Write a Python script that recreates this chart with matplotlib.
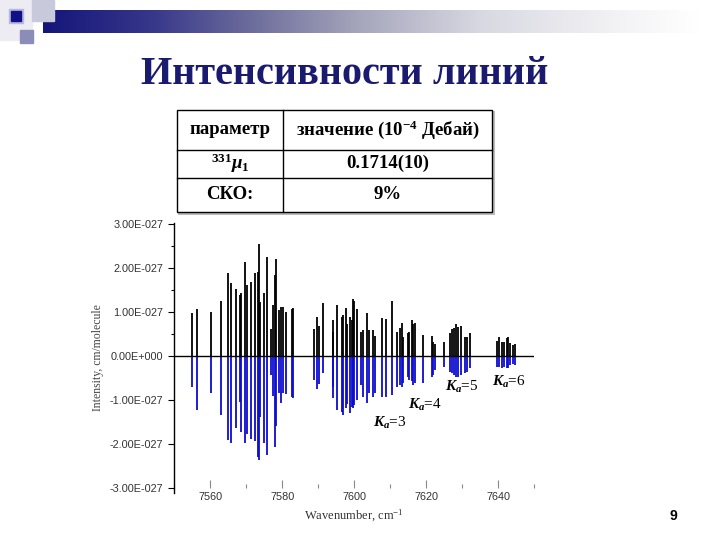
import numpy as np
import matplotlib
matplotlib.use("Agg")
import matplotlib.pyplot as plt
from matplotlib.ticker import FixedLocator, MultipleLocator, FuncFormatter
from matplotlib.colors import to_rgb

plt.rcParams['mathtext.fontset'] = 'custom'
plt.rcParams['mathtext.rm'] = 'Liberation Serif'
plt.rcParams['mathtext.it'] = 'Liberation Serif:italic:bold'
plt.rcParams['mathtext.bf'] = 'Liberation Serif:bold'

# ---------------- data ----------------
title = "Интенсивности линий"
table_header = ["параметр", "значение (10$^{\\mathbf{-4}}$ Дебай)"]
table_row1 = ["$^{\\mathbf{331}}μ_{\\mathbf{1}}$", "0.1714(10)"]
table_row2 = ["СКО:", "9%"]

wavenumber = [7555.0, 7556.4, 7560.3, 7563.1, 7564.8, 7565.8, 7567.2, 7568.3, 7568.6, 7569.7,
              7570.1, 7571.2, 7572.4, 7573.3, 7573.6, 7573.8, 7575.0, 7575.8, 7576.9, 7577.5,
              7577.9, 7578.2, 7579.2, 7579.7, 7580.3, 7581.1, 7582.7, 7583.1, 7588.8, 7589.6,
              7590.3, 7591.4, 7594.0, 7594.2, 7595.3, 7596.5, 7596.9, 7597.6, 7598.1, 7598.8,
              7599.3, 7599.6, 7600.0, 7600.8, 7601.8, 7602.5, 7603.6, 7604.2, 7605.3, 7605.8,
              7607.8, 7608.8, 7610.6, 7611.8, 7612.7, 7613.2, 7613.6, 7614.8, 7615.3, 7615.9,
              7616.4, 7616.9, 7619.0, 7621.5, 7621.9, 7622.5, 7625.0, 7626.6, 7627.1, 7627.7,
              7628.3, 7628.9, 7629.7, 7630.8, 7631.4, 7632.1, 7639.6, 7640.3, 7640.9, 7641.6,
              7642.3, 7642.7, 7643.3, 7644.0, 7644.6]
# observed intensities (units of 1e-27 cm/molecule), drawn upward
observed = [0.97, 1.06, 1.01, 1.25, 1.90, 1.66, 1.52, 1.39, 1.43, 2.15,
            1.62, 1.69, 1.90, 1.92, 2.55, 1.24, 1.44, 2.26, 0.61, 1.16,
            1.85, 2.22, 1.05, 1.12, 1.12, 1.01, 1.06, 1.10, 0.61, 0.88,
            0.68, 1.21, 0.55, 0.82, 1.16, 0.88, 0.93, 1.10, 0.74, 0.88,
            0.82, 1.30, 1.26, 1.06, 0.55, 0.59, 0.97, 0.59, 0.59, 0.46,
            0.86, 0.84, 1.26, 0.55, 0.63, 0.76, 0.44, 0.53, 0.55, 0.82,
            0.74, 0.76, 0.48, 0.46, 0.33, 0.27, 0.33, 0.52, 0.61, 0.63,
            0.74, 0.67, 0.68, 0.44, 0.43, 0.52, 0.35, 0.43, 0.33, 0.33,
            0.40, 0.43, 0.30, 0.25, 0.27]
# calculated intensities (units of 1e-27 cm/molecule), drawn downward
calculated = [0.71, 1.23, 0.85, 1.34, 1.91, 1.99, 1.65, 1.04, 1.72, 1.99,
              1.78, 1.88, 1.93, 2.29, 2.37, 1.38, 1.99, 2.26, 0.43, 0.90,
              2.08, 1.60, 0.84, 1.06, 0.85, 0.87, 0.93, 0.96, 0.55, 0.74,
              0.64, 0.39, 0.96, 0.70, 1.23, 1.27, 1.34, 1.19, 1.10, 1.29,
              1.15, 1.19, 1.12, 1.00, 0.66, 0.93, 1.08, 0.85, 0.93, 0.85,
              0.93, 0.93, 0.89, 0.70, 0.66, 0.70, 0.62, 0.47, 0.55, 0.58,
              0.66, 0.62, 0.62, 0.47, 0.43, 0.32, 0.26, 0.36, 0.39, 0.43,
              0.47, 0.47, 0.43, 0.39, 0.36, 0.28, 0.24, 0.26, 0.28, 0.24,
              0.28, 0.28, 0.21, 0.18, 0.21]
unit = 1e-27

x_ticks = [7560, 7580, 7600, 7620, 7640]
y_ticks = [-3e-27, -2e-27, -1e-27, 0.0, 1e-27, 2e-27, 3e-27]
ka_labels = ["3", "4", "5", "6"]
ka_pos_x = [7609.9, 7619.6, 7629.9, 7643.0]
ka_pos_y = [-1.53e-27, -1.12e-27, -0.71e-27, -0.59e-27]

x_label = "Wavenumber, cm$^{-1}$"
y_label = "Intensity, cm/molecule"
page_number = "9"

# ---------------- figure ----------------
fig = plt.figure(figsize=(7.2, 5.4), dpi=100)
fig.patch.set_facecolor("white")

# overlay for slide decorations, title and table (pixel coordinates)
ov = fig.add_axes([0, 0, 1, 1])
ov.set_xlim(0, 720)
ov.set_ylim(540, 0)
ov.axis("off")

# gradient bar
stops_x = [43, 150, 250, 360, 480, 620, 700]
stops_c = ["#15157a", "#36368a", "#6c6c9c", "#a6a6bc", "#d8d8e2", "#f3f3f5", "#ffffff"]
xs = np.linspace(43, 700, 400)
rgb = np.array([to_rgb(c) for c in stops_c])
grad = np.stack([np.interp(xs, stops_x, rgb[:, i]) for i in range(3)], axis=-1)
ov.imshow(grad[np.newaxis, :, :], extent=(43, 700, 33, 10), aspect="auto", zorder=1)
# squares
ov.add_patch(plt.Rectangle((0, 0), 32, 40, color="#ececf2", zorder=0.5))
ov.add_patch(plt.Rectangle((32, 0), 22, 21, color="#c9c9dc", zorder=1.5))
ov.add_patch(plt.Rectangle((20, 30), 13, 13, color="#8c8cb8", zorder=1.5))
ov.add_patch(plt.Rectangle((9, 9), 14, 14, color="#b8b8d8", zorder=1.6))
ov.add_patch(plt.Rectangle((11, 11), 10, 10, color="#10108a", zorder=1.7))

# title
ov.text(345, 75, title, ha="center", va="center", fontsize=29, fontweight="bold",
        family="Liberation Serif", color="#1a1a6e")

# table
tx0, tx1, tcol = 177, 492, 283
ty = [110, 150, 177.5, 212]
ov.add_patch(plt.Rectangle((tx0 + 1.5, ty[0] + 1.5), tx1 - tx0, ty[3] - ty[0],
                           facecolor="none", edgecolor="#bbbbbb", lw=1.5, zorder=2))
ov.add_patch(plt.Rectangle((tx0, ty[0]), tx1 - tx0, ty[3] - ty[0],
                           facecolor="white", edgecolor="black", lw=1.0, zorder=3))
ov.plot([tcol, tcol], [ty[0], ty[3]], color="black", lw=1.0, zorder=4)
for yy in ty[1:3]:
    ov.plot([tx0, tx1], [yy, yy], color="black", lw=1.0, zorder=4)
rows = [table_header, table_row1, table_row2]
cx = [(tx0 + tcol) / 2, (tcol + tx1) / 2]
for r, row in enumerate(rows):
    cy = (ty[r] + ty[r + 1]) / 2
    for c, txt in enumerate(row):
        ov.text(cx[c], cy, txt, ha="center", va="center", fontsize=13.5,
                fontweight="bold", family=["Liberation Serif", "DejaVu Serif"],
                color="black", zorder=5)

# page number
ov.text(673, 516, page_number, ha="center", va="center", fontsize=10,
        fontweight="bold", family="Liberation Sans", color="black")

# ---------------- main spectrum axes ----------------
ax = fig.add_axes([174.3 / 720, 1 - 493 / 540, 360 / 720, 270 / 540])
ax.set_facecolor("none")
wn = np.array(wavenumber)
obs = np.array(observed) * unit
calc = np.array(calculated) * unit
ax.vlines(wn, 0, obs, color="black", lw=1.3)
ax.vlines(wn, 0, -calc, color="#0c0cd0", lw=1.3)
ax.axhline(0, color="black", lw=1.0)

ax.set_xlim(7550, 7650)
ax.set_ylim(-3.12e-27, 3.03e-27)

ax.spines["top"].set_visible(False)
ax.spines["right"].set_visible(False)
ax.spines["bottom"].set_position(("data", -3.0e-27))
ax.spines["bottom"].set_visible(False)
ax.spines["left"].set_linewidth(1.0)

def sci_fmt(v, pos):
    if v == 0:
        return "0.00E+000"
    exp = int(np.floor(np.log10(abs(v)) + 1e-9))
    mant = v / 10 ** exp
    sign = "-" if exp < 0 else "+"
    return f"{mant:.2f}E{sign}{abs(exp):03d}"

ax.yaxis.set_major_locator(FixedLocator(y_ticks))
ax.yaxis.set_minor_locator(FixedLocator([0.5e-27, 1.5e-27, 2.5e-27]))
ax.yaxis.set_major_formatter(FuncFormatter(sci_fmt))
ax.xaxis.set_major_locator(FixedLocator(x_ticks))
ax.xaxis.set_minor_locator(MultipleLocator(10))
ax.tick_params(axis="y", which="major", direction="out", length=4, width=0.8, pad=4,
               labelsize=7.8, labelcolor="#333333")
ax.tick_params(axis="y", which="minor", direction="out", length=2.5, width=0.8)
ax.tick_params(axis="x", which="major", direction="in", length=6, width=0.8, pad=3,
               labelsize=7.8, labelcolor="#333333", color="#888888")
ax.tick_params(axis="x", which="minor", direction="in", length=3, width=0.8, color="#888888")
for lab in ax.get_xticklabels() + ax.get_yticklabels():
    lab.set_family("Liberation Sans")

ax.set_xlabel(x_label, family="Liberation Serif", fontsize=9, color="#333333", labelpad=4)
ax.set_ylabel(y_label, family="Liberation Serif", fontsize=8.5, color="#444444", labelpad=4)

for lab, kx, ky in zip(ka_labels, ka_pos_x, ka_pos_y):
    ax.text(kx, ky, "$K_a$=" + lab, ha="center", va="center", fontsize=11,
            family="Liberation Serif", color="black")

fig.savefig("out.png", dpi=100, facecolor="white")
